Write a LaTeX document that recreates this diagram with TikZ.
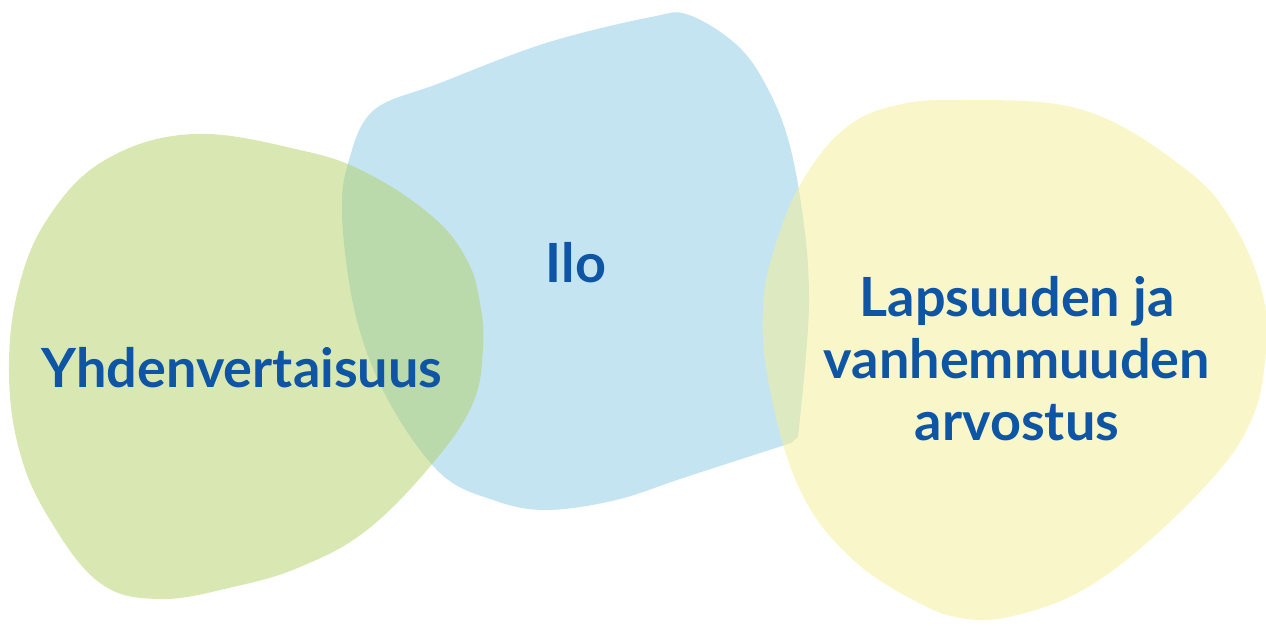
\documentclass[tikz,border=0pt]{standalone}
\usepackage{fontspec}
\setmainfont{Lato}
\definecolor{greenblob}{RGB}{179,209,103}
\definecolor{blueblob}{RGB}{139,201,227}
\definecolor{yellowblob}{RGB}{243,239,147}
\definecolor{labelblue}{RGB}{14,85,165}
\tikzset{
  blob/.style={fill opacity=0.5, draw=none},
  label/.style={text=labelblue, font=\fontsize{54}{62}\selectfont\bfseries, align=center, inner sep=0pt}
}
\begin{document}
\begin{tikzpicture}[x=1pt,y=-1pt]
\useasboundingbox (0,0) rectangle (1266,625);
% blue blob
\fill[blob, blueblob] plot[smooth, tension=0.6] coordinates {
  (798,437) (805,367) (809,300) (805,233) (791,150) (770,93) (739,47) (689,15)
  (651,17) (546,43) (440,83) (374,110) (349,160) (342,217) (356,317) (388,400)
  (440,473) (493,500) (546,510) (616,500) (686,477) (791,443)} -- cycle;
% green blob
\fill[blob, greenblob] plot[smooth cycle, tension=0.65] coordinates {
  (193,134) (300,150) (367,173) (433,217) (467,260) (480,303) (483,347)
  (473,403) (433,463) (367,530) (300,567) (233,587) (160,599) (100,583)
  (50,520) (20,453) (9,373) (18,290) (48,218) (105,160)};
% yellow blob
\fill[blob, yellowblob] plot[smooth cycle, tension=0.65] coordinates {
  (963,100) (1083,110) (1183,167) (1233,223) (1264,300) (1264,370) (1250,423)
  (1217,473) (1150,540) (1083,590) (1017,615) (967,619) (917,602) (850,557)
  (800,490) (770,390) (763,307) (777,240) (803,180) (843,130) (893,106)};
\node[label, anchor=base] (yhd) at (242,387) {Yhdenvertaisuus};
\node[label, anchor=base] (ilo) at (576,282) {Ilo};
\node[label, anchor=base] (lap) at (1017,440) {Lapsuuden ja\\vanhemmuuden\\arvostus};
\end{tikzpicture}
\end{document}
